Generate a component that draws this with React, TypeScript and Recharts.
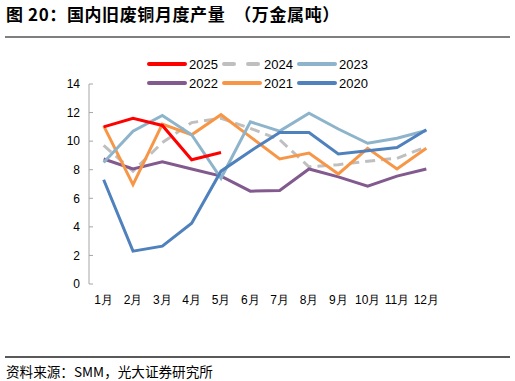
import React from 'react';
import { LineChart, Line, XAxis, YAxis } from 'recharts';

const months = ['1月', '2月', '3月', '4月', '5月', '6月', '7月', '8月', '9月', '10月', '11月', '12月'];
const yTicks = [0, 2, 4, 6, 8, 10, 12, 14];
const boundaryTicks = [0, 1, 2, 3, 4, 5, 6, 7, 8, 9, 10, 11, 12];

const v2025: (number | null)[] = [11.0, 11.6, 11.1, 8.7, 9.2, null, null, null, null, null, null, null];
const v2024 = [9.7, 7.9, 9.9, 11.3, 11.6, 10.9, 10.1, 8.2, 8.35, 8.6, 8.8, 9.6];
const v2023 = [8.5, 10.7, 11.8, 10.45, 7.4, 11.35, 10.7, 11.95, 10.85, 9.85, 10.2, 10.75];
const v2022 = [8.75, 8.05, 8.55, 8.05, 7.55, 6.5, 6.55, 8.05, 7.5, 6.85, 7.55, 8.05];
const v2021 = [11.07, 6.96, 11.2, 10.45, 11.85, 10.3, 8.75, 9.17, 7.7, 9.5, 8.05, 9.5];
const v2020 = [7.3, 2.3, 2.65, 4.25, 7.9, 9.3, 10.6, 10.6, 9.1, 9.33, 9.56, 10.8];

const data = months.map((m, i) => ({
  month: m,
  y2025: v2025[i],
  y2024: v2024[i],
  y2023: v2023[i],
  y2022: v2022[i],
  y2021: v2021[i],
  y2020: v2020[i],
}));

const series = [
  { key: 'y2025', name: '2025', color: '#FF0000', dash: undefined as string | undefined },
  { key: 'y2024', name: '2024', color: '#BFBFBF', dash: '12 12' },
  { key: 'y2023', name: '2023', color: '#8DB4CB', dash: undefined },
  { key: 'y2022', name: '2022', color: '#825A8E', dash: undefined },
  { key: 'y2021', name: '2021', color: '#F79646', dash: undefined },
  { key: 'y2020', name: '2020', color: '#4F81BD', dash: undefined },
];

const drawOrder = ['y2024', 'y2022', 'y2021', 'y2023', 'y2020', 'y2025'];

const LegendBox = () => (
  <div style={{ position: 'absolute', top: 56, left: 147, display: 'grid', gridTemplateColumns: 'repeat(3, 75px)', rowGap: 3 }}>
    {series.map((s) => (
      <div key={s.key} style={{ display: 'flex', alignItems: 'center', height: 16 }}>
        <svg width={40} height={8} style={{ marginRight: 2 }}>
          <line x1={2} y1={4} x2={38} y2={4} stroke={s.color} strokeWidth={4} strokeLinecap="round"
            strokeDasharray={s.dash ? '10 14' : undefined} />
        </svg>
        <span style={{ fontFamily: '"Liberation Sans", Arial, sans-serif', fontSize: 13, color: '#000' }}>{s.name}</span>
      </div>
    ))}
  </div>
);

const axisFont = { fontFamily: '"Liberation Sans", Arial, sans-serif', fontSize: 12, fill: '#000' };

export default function App() {
  return (
    <div style={{ position: 'absolute', left: 0, top: 0, width: 515, height: 381, background: '#fff', overflow: 'hidden' }}>
      <div style={{ position: 'absolute', left: 6, top: 3, fontFamily: '"Noto Sans CJK SC", sans-serif', fontWeight: 700, fontSize: 17, letterSpacing: 0.6, color: '#000', whiteSpace: 'pre', lineHeight: '22px' }}>
        图 20：国内旧废铜月度产量  （万金属吨）
      </div>
      <div style={{ position: 'absolute', left: 5, top: 36, width: 505, height: 2, background: '#7F7F7F' }} />
      <div style={{ position: 'absolute', left: 5, top: 356, width: 505, height: 2, background: '#595959' }} />
      <div style={{ position: 'absolute', left: 6, top: 362, fontFamily: '"Noto Sans CJK SC", sans-serif', fontSize: 13.6, color: '#000', whiteSpace: 'pre', lineHeight: '18px' }}>
        资料来源：SMM，光大证券研究所
      </div>
      <div style={{ position: 'absolute', left: 0, top: 0 }}>
        <LineChart width={515} height={381} data={data} margin={{ top: 84, right: 74, bottom: 67, left: 59 }}>
          <XAxis xAxisId="grid" type="number" domain={[0, 12]} ticks={boundaryTicks} height={0}
            tickFormatter={() => ''} tickSize={-4} stroke="#A6A6A6" allowDataOverflow />
          <XAxis xAxisId="cat" dataKey="month" height={30} axisLine={false} tickLine={false} tickSize={0}
            tickMargin={11} tick={axisFont} interval={0} padding={{ left: 14.67, right: 14.67 }} />
          <YAxis yAxisId="y" width={30} domain={[0, 14]} ticks={yTicks} tickSize={-4} tickMargin={13}
            stroke="#A6A6A6" tick={axisFont} allowDataOverflow />
          {drawOrder.map((k) => {
            const s = series.find((x) => x.key === k)!;
            return (
              <Line key={k} xAxisId="cat" yAxisId="y" type="linear" dataKey={k} name={s.name} stroke={s.color}
                strokeWidth={3} strokeDasharray={s.dash ? '10 6' : undefined} dot={false}
                isAnimationActive={false} connectNulls={false} />
            );
          })}
        </LineChart>
      </div>
      <LegendBox />
    </div>
  );
}
